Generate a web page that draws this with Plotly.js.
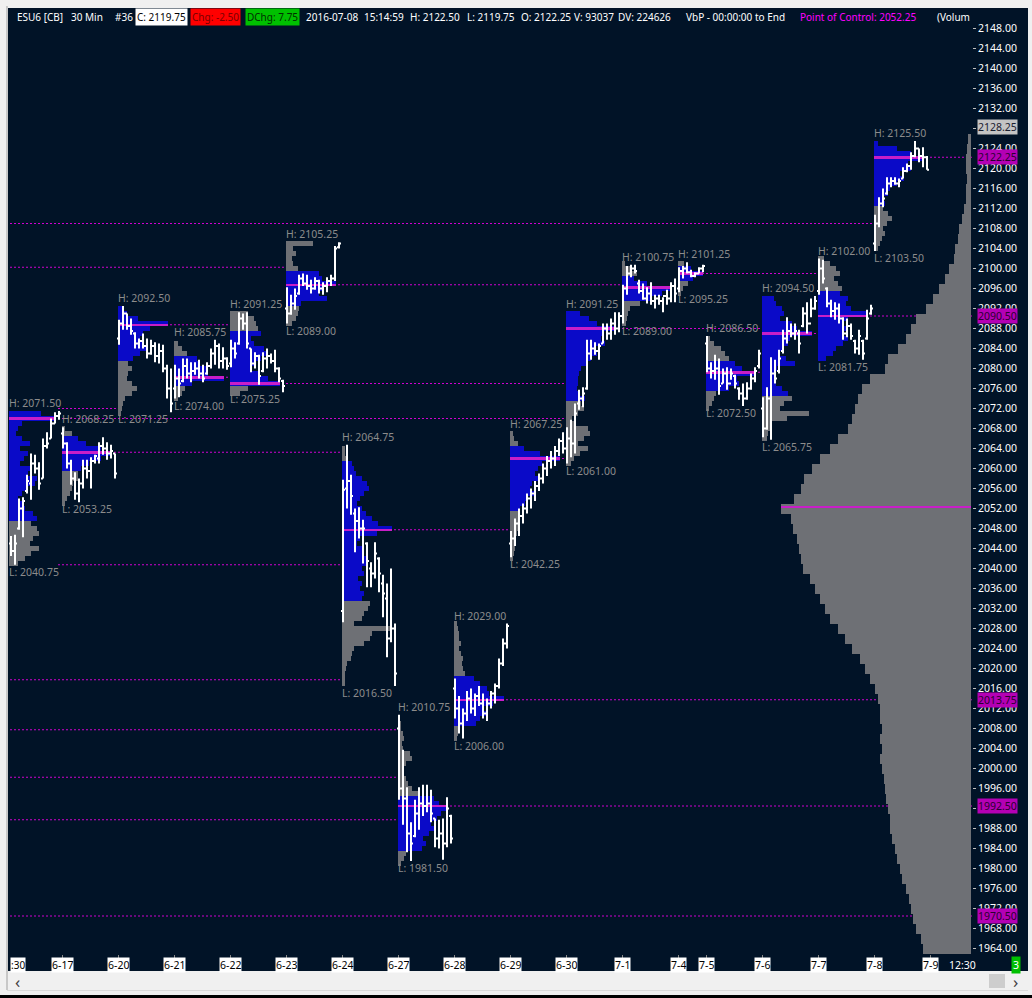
<!DOCTYPE html>
<html><head><meta charset="utf-8">
<script src="https://cdn.plot.ly/plotly-3.0.1.min.js"></script>
<style>html,body{margin:0;padding:0;background:#f0f0f0;}#chart{width:1032px;height:998px;}</style>
</head><body><div id="chart"></div>
<script>
// ---------------- DATA ----------------
const dayLabels = ['6-16','6-17','6-20','6-21','6-22','6-23','6-24','6-27','6-28','6-29','6-30','7-1','7-4','7-5','7-6','7-7','7-8'];
const nextDayLabel = '7-9';
const timeLabels = [':30', '12:30'];

const barOpen = [
 [2044,2045,2043.5,2048,2052,2055.5,2057,2061,2060,2058,2064.5,2066,2069,2070.5],
 [2067,2065,2061,2058,2055,2057,2060,2059.5,2061.5,2062,2064.5,2064,2063,2063],
 [2086,2089,2091,2088.5,2087,2085,2085.5,2084.5,2083,2084.5,2082.5,2083.5,2080,2076],
 [2076,2078,2077.5,2080.5,2079,2079.5,2080,2079,2079,2080.5,2083,2084.5,2081.5,2082],
 [2081,2084,2085,2090,2089,2084,2081,2082.5,2079.5,2082,2082.5,2081.5,2080,2077.5],
 [2092,2091,2093,2095,2098,2097,2096.5,2096,2097.5,2096,2096.5,2097.5,2098,2104.25],
 [2031.5,2056,2057.5,2051,2049.5,2048,2045,2040,2039,2042,2037,2034,2026,2028],
 [2008,1996,1994,1987,1986.5,1991,1993,1992.5,1993,1990,1986,1987,1985,1990.5],
 [2016,2012,2009,2011,2014,2012,2014.5,2013,2011,2013,2015,2016.5,2021,2025],
 [2045,2046,2049,2050.5,2052,2054,2055,2056.5,2058,2060,2061.5,2062,2063.5,2065.5],
 [2064,2066,2065,2073,2074,2076,2083,2084,2083.5,2085,2088,2087,2089,2088],
 [2090.5,2096,2099,2100,2097,2095.5,2094,2095,2093.5,2094,2093.5,2094.5,2094,2096.5],
 [2096,2099.5,2100,2099.25,2098.5,2099,2100],
 [2085,2080,2079.5,2080,2077,2079,2077,2078.5,2076,2075,2074,2076,2078,2080.5],
 [2072,2068,2074,2079,2079.5,2083.5,2086,2087.5,2087,2087,2088.5,2091,2089,2092],
 [2095.5,2100,2096,2093,2091.5,2092,2090,2087,2088.5,2085.5,2084,2085.5,2086,2091],
 [2105,2109,2113,2115,2117,2117.5,2117,2118,2119.5,2120.5,2122.5,2124,2122.5,2122.25]
];
const barHigh = [
 [2047,2046.5,2046.75,2054,2054.25,2058.75,2063,2062.75,2061.25,2066,2067.25,2070,2071.25,2071.5],
 [2068.25,2065.25,2061.75,2059.25,2058,2061.75,2061.75,2062.25,2062.75,2065.25,2066.25,2065.25,2064.75,2063],
 [2089.75,2092.5,2091,2090,2087.25,2086,2087,2086,2085.75,2085.25,2085,2084.75,2080.75,2080],
 [2080.75,2080,2082,2082,2081.25,2081.25,2081.75,2080.75,2081.25,2084,2085.75,2085,2084.25,2082.25],
 [2085.75,2085.25,2091.25,2091,2091.25,2084,2083.25,2082.75,2083.25,2084,2083,2083.75,2080.25,2077.75],
 [2096.25,2094.75,2096,2098.75,2099,2098.75,2097.75,2098.25,2097.75,2097.25,2098.25,2098.75,2104.5,2105.25],
 [2057.75,2064.75,2058.75,2052,2052.25,2049.75,2045.25,2041.25,2045.25,2042.25,2038.75,2037,2040,2029],
 [2010.75,2003.75,1996.25,1989.25,1993.75,1996.25,1996.75,1996.75,1995.75,1990,1989.75,1990,1994.25,1990.75],
 [2018,2014.5,2012,2015.5,2016,2015,2016.5,2015,2014,2015.5,2017,2022,2026,2029],
 [2047.5,2050,2052,2053,2055,2056,2057.5,2059,2061,2062.5,2063.5,2064.5,2066,2067.25],
 [2068.25,2069.75,2073,2075.75,2076.25,2085.75,2085.75,2085.25,2085,2089,2089,2090,2091.25,2091.25],
 [2096.75,2100.5,2100.75,2100.75,2097.75,2097,2096.25,2097.25,2094.75,2094.75,2094.25,2095.75,2097.25,2098],
 [2100.25,2100.5,2101.25,2099.75,2099.25,2100.25,2100.75],
 [2086.5,2081.25,2082.75,2082,2080,2080.25,2080,2078.75,2076.25,2077,2077.25,2079,2080.25,2083.75],
 [2074.25,2076.25,2082.25,2081.75,2083.75,2087.75,2090.25,2089,2089,2087.75,2092.25,2093.25,2094,2094.5],
 [2102,2101.75,2096.25,2093.75,2093.25,2093,2090.25,2090,2089,2085.75,2087.75,2085.75,2091.75,2092.75],
 [2110.75,2114.25,2116,2118.25,2118.25,2118.25,2118,2120.25,2121,2123.25,2125.5,2124,2124.25,2122.5]
];
const barLow = [
 [2042,2042.5,2040.75,2047.75,2046.25,2055,2053.75,2059,2055.75,2058,2064,2066,2069,2069.75],
 [2064,2060,2056.75,2053.75,2053.25,2056,2058,2056,2061,2061,2062.75,2061.75,2062,2058],
 [2084.75,2087.75,2087.75,2086.75,2084,2084,2084,2082,2082.75,2081.25,2081,2079.25,2074,2071.25],
 [2074,2074.25,2077.25,2078,2077.25,2078.75,2078,2077.25,2078.75,2080,2080.75,2080,2080,2079.75],
 [2080.25,2082,2084.75,2087.75,2084,2079.25,2080,2076.75,2079.25,2080,2081,2079.25,2077.25,2075.25],
 [2089,2090.75,2091.75,2094.75,2096.5,2095.75,2095,2095.75,2095,2094.75,2095.25,2096.5,2097.5,2104],
 [2029.25,2052,2050.75,2043.25,2046,2041,2036.25,2036.25,2038,2035.25,2030.25,2022.25,2025.25,2016.5],
 [1993.75,1988.75,1983.25,1981.5,1986.25,1987.75,1990.5,1991.25,1989.25,1984.25,1984,1981.75,1984.25,1985],
 [2010,2007,2006,2009.5,2011,2010.5,2012.5,2010,2009.5,2012,2013,2016,2020.5,2024],
 [2042.25,2044.5,2046.5,2049,2051,2052,2053.5,2055.5,2057,2058.5,2060,2060.5,2062.5,2063],
 [2061,2062.25,2063,2071.75,2072.25,2075.75,2081.75,2082.75,2081.75,2085,2085.75,2085.75,2086.75,2087.25],
 [2089,2094.75,2098.25,2099,2095,2093.75,2093,2092.75,2092,2092.75,2091.25,2092.75,2093.25,2093.25],
 [2095.25,2098,2099,2098.25,2098.25,2099,2099.25],
 [2079.25,2078,2077.75,2074.75,2077,2075.75,2077.75,2076,2073.75,2072.5,2073.75,2075.75,2077.25,2080],
 [2066.25,2067.75,2065.75,2077,2079,2083,2085,2086.25,2085.75,2083,2088.25,2087,2090.25,2091.75],
 [2094.75,2097,2092.25,2090.25,2089.75,2089,2085.75,2086.25,2085.75,2083,2082.75,2081.75,2085.75,2090.75],
 [2103.5,2108.25,2112.25,2114.75,2116.25,2116.75,2116.25,2118,2119.25,2119.75,2122.25,2121.25,2120.25,2119.75]
];
const barClose = [
 [2045,2043.5,2045,2052,2053.5,2057.5,2061,2060,2057,2064.5,2065,2069,2070.5,2071],
 [2065,2061,2058,2055,2057,2060,2059.5,2061.5,2062.5,2064.5,2064,2063,2063.5,2059],
 [2089,2091,2088.5,2087.5,2085,2085.5,2084.5,2083,2084.5,2082.5,2083.5,2080,2076,2073],
 [2078,2077,2080.5,2079,2079.5,2080,2079,2078,2080.5,2083,2084.5,2081.5,2082,2080.5],
 [2084,2083,2090,2089,2085,2081,2082.5,2078.5,2082,2082.5,2081.5,2080,2078,2076.5],
 [2091,2093,2094.5,2098,2097,2096.5,2096,2097.5,2096,2096.5,2097.5,2098,2104,2105],
 [2055.75,2057.5,2054.5,2049.5,2048,2048,2041.5,2039,2043,2039,2035,2026,2028,2019],
 [1996,1994,1987,1985,1991,1993,1992.5,1993,1991,1986,1987,1985,1992,1986],
 [2012,2009,2011,2014,2012,2014.5,2013,2011,2013,2015,2016.5,2021,2025,2028.5],
 [2046,2049,2050.5,2052,2054,2055,2056.5,2058,2060,2061.5,2062,2063.5,2065.5,2064],
 [2066,2065,2071,2074,2075,2083,2084,2083.5,2084.5,2088,2087,2089,2088,2090.5],
 [2096,2099,2100,2099.5,2095.5,2094,2095,2093.5,2094,2093.5,2094.5,2094,2096.5,2095],
 [2099.5,2100,2099.25,2098.5,2099,2100,2100.5],
 [2080,2079.5,2080,2076.5,2079,2077,2079,2077,2075,2074,2076,2078,2079.5,2083],
 [2068,2074,2079,2078,2082,2086,2087.5,2087,2087.5,2085,2091,2089,2092,2093.5],
 [2100,2098,2093,2091.5,2092,2090,2087,2088.5,2086.5,2084,2086.5,2083,2090,2092],
 [2109,2113,2114,2117,2117.5,2117,2117.5,2119.5,2120.5,2122.5,2124,2122.5,2122.25,2119.75]
];

// daily volume profiles: relative volume per 1-point level, from profTop downwards
const profTop = [2071,2068,2092,2085,2091,2105,2064,2010,2029,2067,2091,2101,2101,2086,2094,2102,2125];
const profVol = [
 [31,44,14,11,9,14,21,12,19,16,12,21,19,27,26,19,14,11,14,17,24,27,22,27,29,24,21,29,22,17,11],
 [3,10,15,23,38,48,38,26,18,15,15,11,10,8,5,3],
 [4,9,20,50,32,25,22,25,29,22,15,10,14,10,9,14,19,14,7,5,4,3],
 [4,8,13,23,26,31,33,49,18,11,8,4],
 [17,23,25,27,30,20,23,33,37,30,23,20,27,37,48,17,10],
 [25,7,9,6,7,11,31,34,47,36,31,39,14,12,11,9,6],
 [3,3,4,10,12,14,20,25,27,22,18,15,20,24,30,36,50,35,18,15,22,20,26,24,20,22,16,20,18,22,20,28,26,22,20,12,48,30,28,22,12,10,9,5,4,3,3,3],
 [2,3,3,5,6,4,5,12,14,8,4,5,8,10,14,20,35,40,49,42,38,32,35,30,25,28,24,8,6,3],
 [3,4,5,5,6,5,6,8,7,8,10,18,24,30,32,46,36,28,30,24,20,5,4,3],
 [3,4,8,14,30,50,32,28,25,30,22,20,24,18,15,10,8,8,10,8,7,6,5,5,4,3],
 [14,24,32,51,38,36,40,30,32,26,22,15,13,12,12,11,14,19,15,18,12,6,8,22,25,18,12,22,14,8,5],
 [3,8,15,12,25,50,40,30,18,8,6,5,4],
 [6,14,26,16,10,5,3],
 [4,8,14,18,22,28,35,48,30,32,22,10,8,6,3],
 [12,14,20,22,18,30,35,50,28,26,22,18,24,33,15,12,12,14,20,26,30,22,18,47,25,10,8,6,5],
 [6,12,18,22,16,20,24,22,30,28,33,50,30,26,28,24,30,25,18,15,8],
 [4,23,36,49,33,36,26,29,23,16,14,9,11,9,14,18,13,9,11,8,6,4]
];
const dayPoc = [2070,2063.25,2088.75,2078.25,2077,2096.75,2047.75,1992.5,2013.75,2062,2088,2096.25,2099,2079.25,2087,2090.5,2122.25];
const dayVah = [2071.5,2065.75,2092,2082.25,2086.75,2099.5,2061,1994.5,2018.5,2064.5,2091.25,2098,2100.5,2081.5,2094.5,2095.5,2124.75];
const dayVal = [2049.5,2059.5,2081.75,2077.25,2076.75,2093,2033.75,1984,2008.5,2051.5,2073.5,2093.5,2097.5,2076.25,2074.5,2082.25,2112.75];

// naked POCs of earlier sessions (start: -1 = before the chart, d = after day d)
const priorLevel = [2109, 2100.25, 2072, 2040.75, 2017.75, 2007.75, 1998.25, 1989.75, 1970.5];
const priorFrom  = [-1, -1, 0, 0, -1, -1, -1, -1, -1];

// composite volume profile (whole period), 2-point levels from compLow upward
const compLow = 1964, compStep = 2;
const compVol = [48,50,55,58,60,62,65,68,70,73,75,78,80,80,82,84,85,86,88,90,88,90,88,90,90,92,95,100,105,110,118,125,132,140,145,150,155,160,166,168,170,172,176,178,188,175,168,165,158,150,140,132,122,118,115,112,108,100,85,82,72,65,60,55,45,38,32,26,22,17,16,13,12,9,7,5,5,4,5,5,4,3];
const compPoc = 2052.25;
const markerLevel = [2128.25];

const priceTicks = [];
for (let p = 1964; p <= 2148; p += 4) priceTicks.push(p);

// ---------------- STYLE ----------------
const FONT = 'Noto Sans, Open Sans, DejaVu Sans, sans-serif';
const BG = '#011327', BLUE = '#0a0ac8', GRAY = '#6e7075', MAG = '#c81ec8', MAGDOT = '#d000d0';
const X0 = 0.75, X1 = 241.5, Y0 = 1962.9, Y1 = 2152.1;
const px2x = px => (px - 9) / 963;
const py2y = py => (954 - py) / 946;

// ---------------- BUILD ----------------
const dayStart = []; let acc = 0;
for (let d = 0; d < barHigh.length; d++) { dayStart.push(acc); acc += barHigh[d].length; }
const futureStart = acc;
const dayHi = barHigh.map(a => Math.max(...a));
const dayLo = barLow.map(a => Math.min(...a));

const ox = [], oo = [], oh = [], ol = [], oc = [];
barHigh.forEach((arr, d) => arr.forEach((h, i) => {
  ox.push(dayStart[d] + i + 0.25); oo.push(barOpen[d][i]); oh.push(h); ol.push(barLow[d][i]); oc.push(barClose[d][i]);
}));

const py = [], plen = [], pbase = [], pcol = [];
const pocY = [], pocLen = [], pocBase = [];
profVol.forEach((vols, d) => {
  const n = barHigh[d].length, mx = Math.max(...vols), full = 0.89 * n;
  vols.forEach((v, j) => {
    const p = profTop[d] - j;
    py.push(p); plen.push(v / mx * full); pbase.push(dayStart[d]);
    pcol.push(p >= dayVal[d] - 0.25 && p <= dayVah[d] + 0.25 ? BLUE : GRAY);
  });
  pocY.push(dayPoc[d]); pocLen.push(full); pocBase.push(dayStart[d]);
});

const cy = [], clen = [];
const cmx = Math.max(...compVol), cFull = 47.5, cBase = 241.3;
compVol.forEach((v, i) => { cy.push(compLow + i * compStep); clen.push(-v / cmx * cFull); });

function firstTouch(level, fromDay) {
  for (let e = fromDay + 1; e < barHigh.length; e++) if (dayLo[e] <= level && dayHi[e] >= level) return e;
  return -1;
}
const shapes = [];
const nakedLevels = [];
function extLine(level, startK, fromDay) {
  const e = firstTouch(level, fromDay);
  const endK = e >= 0 ? dayStart[e] : X1;
  if (e < 0) nakedLevels.push(level);
  shapes.push({type: 'line', xref: 'x', yref: 'y', x0: startK, x1: endK, y0: level, y1: level,
    layer: 'below', line: {color: MAGDOT, width: 1, dash: '2px,2px'}});
}
priorLevel.forEach((lv, i) => {
  const fr = priorFrom[i];
  extLine(lv, fr < 0 ? 0 : dayStart[fr + 1] - 1, fr);
});
dayPoc.forEach((lv, d) => extLine(lv, dayStart[d], d));

shapes.unshift(
  {type: 'rect', xref: 'paper', yref: 'paper', x0: px2x(8), x1: px2x(1028), y0: py2y(971), y1: py2y(8), fillcolor: BG, line: {width: 0}, layer: 'below'},
  {type: 'line', xref: 'paper', yref: 'paper', x0: px2x(7), x1: px2x(7), y0: py2y(990), y1: py2y(6), line: {color: '#a0a0a0', width: 1}, layer: 'below'},
  {type: 'rect', xref: 'paper', yref: 'paper', x0: px2x(989), x1: px2x(1005), y0: py2y(988), y1: py2y(974), fillcolor: '#cdcdcd', line: {width: 0}, layer: 'below'},
  {type: 'line', xref: 'paper', yref: 'paper', x0: px2x(7), x1: px2x(1028), y0: py2y(990.5), y1: py2y(990.5), line: {color: '#dadada', width: 1}, layer: 'below'},
  {type: 'rect', xref: 'paper', yref: 'paper', x0: px2x(0), x1: px2x(1032), y0: py2y(998), y1: py2y(995), fillcolor: '#000000', line: {width: 0}, layer: 'below'}
);

const ann = [];
const f = (s, c) => ({family: FONT, size: s, color: c});
dayLabels.forEach((lab, d) => {
  const xk = Math.max(dayStart[d], X0 + 0.05);
  ann.push({x: xk, y: dayHi[d], xref: 'x', yref: 'y', text: 'H: ' + dayHi[d].toFixed(2), showarrow: false,
    xanchor: 'left', yanchor: 'middle', yshift: 8, xshift: -1, font: f(10.5, '#8c8c8c'), borderpad: 0});
  ann.push({x: xk, y: dayLo[d], xref: 'x', yref: 'y', text: 'L: ' + dayLo[d].toFixed(2), showarrow: false,
    xanchor: 'left', yanchor: 'middle', yshift: -7, xshift: -1, font: f(10.5, '#8c8c8c'), borderpad: 0});
});
const dateY = py2y(965);
dayLabels.forEach((lab, d) => {
  if (dayStart[d] < X0) return;
  ann.push({x: dayStart[d], y: dateY, xref: 'x', yref: 'paper', text: lab, showarrow: false,
    xanchor: 'center', yanchor: 'middle', bgcolor: '#ffffff', borderpad: 0, font: f(10.5, '#000000')});
});
ann.push({x: futureStart, y: dateY, xref: 'x', yref: 'paper', text: nextDayLabel, showarrow: false,
  xanchor: 'center', yanchor: 'middle', bgcolor: '#ffffff', borderpad: 0, font: f(10.5, '#000000')});
ann.push({x: px2x(9.5), y: dateY, xref: 'paper', yref: 'paper', text: timeLabels[0], showarrow: false,
  xanchor: 'left', yanchor: 'middle', bgcolor: '#ffffff', borderpad: 0, font: f(10, '#000000')});
ann.push({x: futureStart + 8, y: dateY, xref: 'x', yref: 'paper', text: timeLabels[1], showarrow: false,
  xanchor: 'center', yanchor: 'middle', font: f(10.5, '#ffffff')});
ann.push({x: px2x(1016), y: dateY, xref: 'paper', yref: 'paper', text: '3', showarrow: false,
  xanchor: 'center', yanchor: 'middle', bgcolor: '#00c000', borderpad: 1, font: f(10.5, '#ffffff')});
ann.push({x: px2x(17), y: py2y(981), xref: 'paper', yref: 'paper', text: '\u2039', showarrow: false,
  xanchor: 'center', yanchor: 'middle', font: f(17, '#404040')});
ann.push({x: px2x(1016), y: py2y(981), xref: 'paper', yref: 'paper', text: '\u203A', showarrow: false,
  xanchor: 'center', yanchor: 'middle', font: f(17, '#404040')});
const axX = px2x(997.5);
nakedLevels.forEach(lv => ann.push({x: axX, y: lv, xref: 'paper', yref: 'y', text: lv.toFixed(2), showarrow: false,
  xanchor: 'center', yanchor: 'middle', bgcolor: '#b400b4', borderpad: 0, font: f(10.5, '#2a0030')}));
markerLevel.forEach(lv => ann.push({x: axX, y: lv, xref: 'paper', yref: 'y', text: lv.toFixed(2), showarrow: false,
  xanchor: 'center', yanchor: 'middle', bgcolor: '#c4c4c4', borderpad: 0, font: f(10.5, '#1a2030')}));
const last = ox.length - 1;
const hdrY = py2y(16.5);
const header = [
  ['ESU6 [CB]', 15.7, '#ffffff', null],
  ['30 Min', 70, '#ffffff', null],
  ['#36', 114.3, '#ffffff', null],
  ['C: ' + oc[last].toFixed(2), 135, '#000000', '#ffffff'],
  ['Chg: -2.50', 190, '#7a0000', '#ff0000'],
  ['DChg: 7.75', 245, '#003000', '#00c000'],
  ['2016-07-08', 305, '#ffffff', null],
  ['15:14:59', 363, '#ffffff', null],
  ['H: ' + oh[last].toFixed(2), 409, '#ffffff', null],
  ['L: ' + ol[last].toFixed(2), 466, '#ffffff', null],
  ['O: ' + oo[last].toFixed(2), 519.7, '#ffffff', null],
  ['V: 93037', 573, '#ffffff', null],
  ['DV: 224626', 617, '#ffffff', null],
  ['VbP - 00:00:00 to End', 685, '#ffffff', null],
  ['Point of Control: ' + compPoc.toFixed(2), 799, '#ff00ff', null],
  ['(Volum', 936, '#ffffff', null]
];
header.forEach(([t, x, c, bg]) => {
  const a = {x: px2x(x), y: hdrY, xref: 'paper', yref: 'paper', text: t, showarrow: false,
    xanchor: 'left', yanchor: 'middle', font: f(10, c), borderpad: 0};
  if (bg) { a.bgcolor = bg; a.borderpad = 1; }
  ann.push(a);
});

const traces = [
  {type: 'bar', orientation: 'h', y: py, x: plen, base: pbase, width: 1, marker: {color: pcol, line: {width: 0}}, hoverinfo: 'skip'},
  {type: 'bar', orientation: 'h', y: cy, x: clen, base: cBase, width: compStep, marker: {color: GRAY, line: {width: 0}}, hoverinfo: 'skip'},
  {type: 'bar', orientation: 'h', y: [compPoc], x: [-cFull], base: cBase, width: 0.45, marker: {color: MAG, line: {width: 0}}, hoverinfo: 'skip'},
  {type: 'bar', orientation: 'h', y: pocY, x: pocLen, base: pocBase, width: 0.5, marker: {color: MAG, line: {width: 0}}, hoverinfo: 'skip'},
  {type: 'ohlc', x: ox, open: oo, high: oh, low: ol, close: oc, tickwidth: 0.5,
   increasing: {line: {color: '#ffffff', width: 2}}, decreasing: {line: {color: '#ffffff', width: 2}}, hoverinfo: 'skip'}
];

const tickK = dayStart.filter(k => k >= X0).concat([futureStart]);
const layout = {
  width: 1032, height: 998,
  margin: {l: 9, r: 60, t: 8, b: 44, pad: 0},
  paper_bgcolor: '#f0f0f0', plot_bgcolor: BG,
  showlegend: false, barmode: 'overlay', bargap: 0, hovermode: false,
  font: {family: FONT, size: 10.5, color: '#ffffff'},
  xaxis: {range: [X0, X1], showgrid: false, zeroline: false, tickmode: 'array', tickvals: tickK,
    ticks: 'outside', ticklen: 4, tickcolor: '#8a8a8a', showticklabels: false,
    rangeslider: {visible: false}, fixedrange: true, showline: false},
  yaxis: {range: [Y0, Y1], side: 'right', showgrid: false, zeroline: false, tickmode: 'array',
    tickvals: priceTicks, ticktext: priceTicks.map(p => p.toFixed(2)), ticks: 'outside', ticklen: 3,
    tickcolor: '#c0c0c0', tickfont: {family: FONT, size: 10.5, color: '#ffffff'}, fixedrange: true, showline: false},
  shapes: shapes, annotations: ann
};
Plotly.newPlot('chart', traces, layout, {staticPlot: true, displayModeBar: false});
</script>
</body></html>
